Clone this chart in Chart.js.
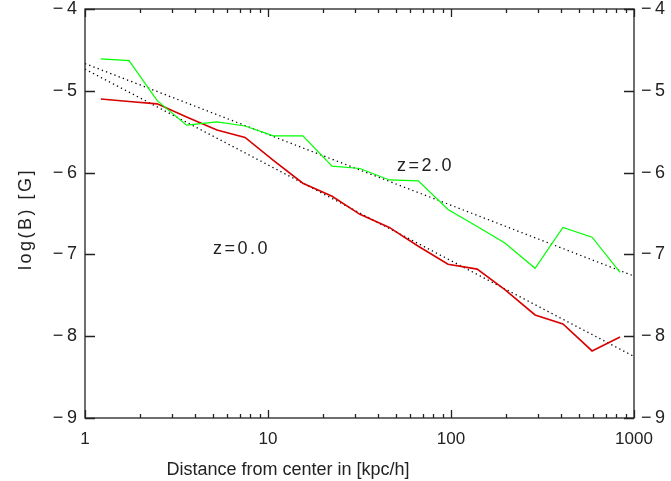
<!DOCTYPE html>
<html>
<head>
<meta charset="utf-8">
<script src="https://cdn.jsdelivr.net/npm/chart.js@4"></script>
<style>
  html, body { margin: 0; padding: 0; background: #fff; }
  #wrap { width: 671px; height: 481px; }
</style>
</head>
<body>
<div id="wrap"><canvas id="chart" width="671" height="481"></canvas></div>
<script>
// distance from center [kpc/h]
const distances = [1.22, 1.74, 2.48, 3.59, 5.26, 7.49, 10.7, 15.5, 22.4, 31.8, 46.0, 66.3, 96.3, 139, 197, 288, 409, 590, 839];
const logBz2 = [-4.61, -4.63, -5.12, -5.42, -5.38, -5.43, -5.55, -5.55, -5.92, -5.95, -6.09, -6.10, -6.45, -6.66, -6.86, -7.17, -6.67, -6.79, -7.22];
const logBz0 = [-5.10, -5.13, -5.16, -5.32, -5.48, -5.57, -5.85, -6.13, -6.29, -6.51, -6.67, -6.90, -7.12, -7.18, -7.43, -7.74, -7.85, -8.18, -8.01];

// power-law fits (straight in log-log)
const fitX = [1, 1000];
const fitZ2 = [-4.667, -7.265];
const fitZ0 = [-4.735, -8.248];

const xTickValues = [1, 10, 100, 1000];
const xMinorValues = [2, 3, 4, 5, 6, 7, 8, 9, 20, 30, 40, 50, 60, 70, 80, 90, 200, 300, 400, 500, 600, 700, 800, 900];
const yTickValues = [-9, -8, -7, -6, -5, -4];

const curveLabels = ['z=2.0', 'z=0.0'];
const curveLabelX = [50.7, 5.0];
const curveLabelY = [-5.92, -6.94];

const axisColor = '#222';
const textFont = "'Liberation Sans', Arial, sans-serif";

function points(xs, ys) {
  return xs.map((x, i) => ({ x, y: ys[i] }));
}

function yLabel(value) {
  return String(value).replace('-', '\u2212\u2009');
}

function fixYScale(width) {
  return (scale) => {
    scale.width = width;
    scale.paddingTop = 0;
    scale.paddingBottom = 0;
  };
}

const frame = {
  id: 'frame',
  afterDraw(chart) {
    const { ctx, chartArea: a, scales } = chart;
    const x = scales.x;
    const y = scales.y;
    ctx.save();
    ctx.strokeStyle = axisColor;
    ctx.lineWidth = 1.3;
    ctx.strokeRect(a.left, a.top, a.right - a.left, a.bottom - a.top);

    ctx.beginPath();
    yTickValues.forEach((v) => {
      const py = Math.round(y.getPixelForValue(v)) + 0.5;
      ctx.moveTo(a.left, py);
      ctx.lineTo(a.left + 10, py);
      ctx.moveTo(a.right, py);
      ctx.lineTo(a.right - 10, py);
    });
    xTickValues.forEach((v) => {
      const px = Math.round(x.getPixelForValue(v)) + 0.5;
      ctx.moveTo(px, a.bottom);
      ctx.lineTo(px, a.bottom - 8);
      ctx.moveTo(px, a.top);
      ctx.lineTo(px, a.top + 8);
    });
    xMinorValues.forEach((v) => {
      const px = Math.round(x.getPixelForValue(v)) + 0.5;
      ctx.moveTo(px, a.bottom);
      ctx.lineTo(px, a.bottom - 4);
      ctx.moveTo(px, a.top);
      ctx.lineTo(px, a.top + 4);
    });
    ctx.stroke();

    ctx.fillStyle = axisColor;
    ctx.font = `18px ${textFont}`;
    ctx.textBaseline = 'middle';
    ctx.textAlign = 'left';
    ctx.letterSpacing = '2.5px';
    curveLabels.forEach((text, i) => {
      ctx.fillText(text, x.getPixelForValue(curveLabelX[i]), y.getPixelForValue(curveLabelY[i]));
    });

    ctx.letterSpacing = '0px';
    ctx.textAlign = 'center';
    ctx.fillText('Distance from center in [kpc/h]', 288, 470);

    // y axis title
    ctx.save();
    ctx.translate(26, 219);
    ctx.rotate(-Math.PI / 2);
    ctx.letterSpacing = '2.5px';
    ctx.fillText('log(B) [G]', 0, 0);
    ctx.restore();
    ctx.restore();
  },
};

new Chart(document.getElementById('chart'), {
  type: 'scatter',
  data: {
    datasets: [
      {
        label: 'z=2.0',
        data: points(distances, logBz2),
        showLine: true,
        borderColor: '#00ff00',
        borderWidth: 1.2,
        pointRadius: 0,
      },
      {
        label: 'z=0.0',
        data: points(distances, logBz0),
        showLine: true,
        borderColor: '#d80000',
        borderWidth: 1.6,
        pointRadius: 0,
      },
      {
        label: 'fit z=2.0',
        data: points(fitX, fitZ2),
        showLine: true,
        borderColor: '#000',
        borderWidth: 1.3,
        borderDash: [1.3, 3.2],
        pointRadius: 0,
      },
      {
        label: 'fit z=0.0',
        data: points(fitX, fitZ0),
        showLine: true,
        borderColor: '#000',
        borderWidth: 1.3,
        borderDash: [1.3, 3.2],
        pointRadius: 0,
      },
    ],
  },
  options: {
    responsive: false,
    animation: false,
    layout: { padding: { top: 9, left: 0, right: 0, bottom: 0 } },
    plugins: {
      legend: { display: false },
      tooltip: { enabled: false },
    },
    scales: {
      x: {
        type: 'logarithmic',
        min: 1,
        max: 1000,
        afterBuildTicks(scale) {
          scale.ticks = xTickValues.map((value) => ({ value }));
        },
        afterFit(scale) {
          scale.height = 63;
          scale.paddingLeft = 0;
          scale.paddingRight = 0;
        },
        grid: { display: false, drawTicks: false },
        border: { display: false },
        ticks: {
          color: axisColor,
          padding: 11,
          maxRotation: 0,
          autoSkip: false,
          font: { family: textFont, size: 17 },
          callback: (value) => String(value),
        },
      },
      y: {
        type: 'linear',
        position: 'left',
        min: -9,
        max: -4,
        afterBuildTicks(scale) {
          scale.ticks = yTickValues.map((value) => ({ value }));
        },
        afterFit: fixYScale(85),
        grid: { display: false, drawTicks: false },
        border: { display: false },
        ticks: {
          color: axisColor,
          padding: 8,
          font: { family: textFont, size: 18, lineHeight: 1 },
          callback: yLabel,
        },
      },
      y2: {
        type: 'linear',
        position: 'right',
        min: -9,
        max: -4,
        afterBuildTicks(scale) {
          scale.ticks = yTickValues.map((value) => ({ value }));
        },
        afterFit: fixYScale(37),
        grid: { display: false, drawTicks: false },
        border: { display: false },
        ticks: {
          color: axisColor,
          padding: 7,
          font: { family: textFont, size: 18, lineHeight: 1 },
          callback: yLabel,
        },
      },
    },
  },
  plugins: [frame],
});
</script>
</body>
</html>
